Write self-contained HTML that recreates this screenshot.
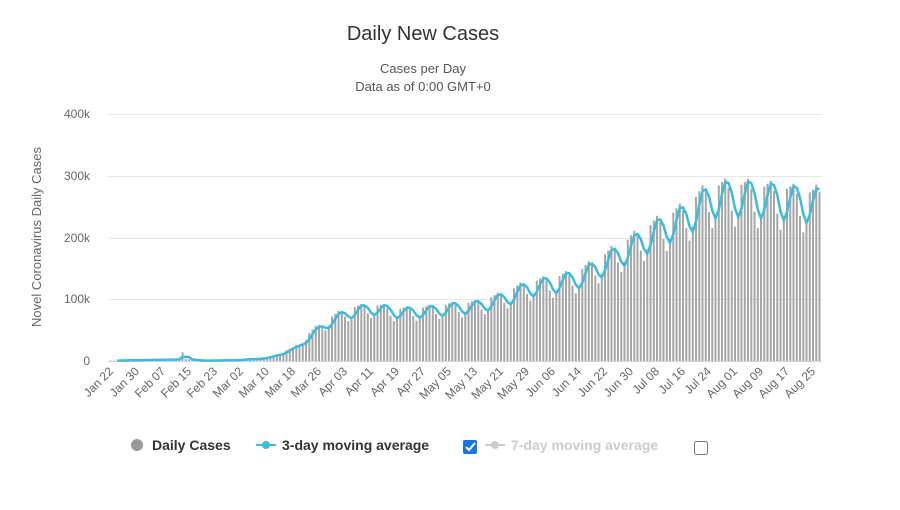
<!DOCTYPE html><html><head><meta charset="utf-8"><style>
body{margin:0;background:#fff;font-family:"Liberation Sans",sans-serif}
</style></head><body>
<svg id="s" width="900" height="505" xmlns="http://www.w3.org/2000/svg" font-family="Liberation Sans, sans-serif">
<rect width="900" height="505" fill="#fff"/>
<text x="423" y="40" font-size="20" text-anchor="middle" fill="#333">Daily New Cases</text>
<text x="423" y="73" font-size="13" text-anchor="middle" fill="#555">Cases per Day</text>
<text x="423" y="91" font-size="13" text-anchor="middle" fill="#555">Data as of 0:00 GMT+0</text>
<g stroke="#e6e6e6" stroke-width="1">
<line x1="108" x2="822" y1="114.5" y2="114.5"/><line x1="108" x2="822" y1="176.5" y2="176.5"/>
<line x1="108" x2="822" y1="238.5" y2="238.5"/><line x1="108" x2="822" y1="299.5" y2="299.5"/>
<line x1="108" x2="822" y1="361.5" y2="361.5" stroke="#ccd6eb"/></g>
<g font-size="12" fill="#666" text-anchor="end">
<text x="90" y="118">400k</text><text x="90" y="180">300k</text><text x="90" y="242">200k</text><text x="90" y="303">100k</text><text x="90" y="365">0</text></g>
<text transform="translate(41,237) rotate(-90)" font-size="13" fill="#666" text-anchor="middle">Novel Coronavirus Daily Cases</text>
<g id="bars" fill="#a6a6a6"></g>
<polyline id="ma" fill="none" stroke="#3cbbe0" stroke-width="2.5"/>
<g id="xl" font-size="12" fill="#666"></g>
<circle cx="137" cy="445" r="6" fill="#999"/>
<text x="152" y="450" font-size="14" font-weight="bold" fill="#333">Daily Cases</text>
<line x1="256" x2="276" y1="445" y2="445" stroke="#3cbbe0" stroke-width="2"/><circle cx="266" cy="445" r="4" fill="#3cbbe0"/>
<text x="282" y="450" font-size="14" font-weight="bold" fill="#333">3-day moving average</text>
<rect x="463" y="440" width="14" height="14" rx="2" fill="#1a73e8"/><path d="M466 447l3 3 6-7" stroke="#fff" stroke-width="2" fill="none"/>
<line x1="485" x2="505" y1="445" y2="445" stroke="#ccc" stroke-width="2"/><circle cx="495" cy="445" r="4" fill="#ccc"/>
<text x="511" y="450" font-size="14" font-weight="bold" fill="#ccc">7-day moving average</text>
<rect x="694.5" y="441.5" width="13" height="13" rx="2" fill="#fff" stroke="#777"/>
</svg>
<script>
var K=[[0,.6],[20,2.5],[21,3],[22,14],[23,3],[28,.5],[39,1.5],[48,5],[56,20],[64,55],[72,78],[80,85],[88,78],[96,80],[104,85],[112,88],[120,100],[128,118],[136,125],[144,135],[152,160],[160,185],[168,210],[176,230],[184,262],[192,265],[200,262],[208,258],[216,252],[218,258]];
function base(d){for(var i=0;i<K.length-1;i++){if(d>=K[i][0]&&d<=K[i+1][0]){var t=(d-K[i][0])/(K[i+1][0]-K[i][0]);return K[i][1]+t*(K[i+1][1]-K[i][1]);}}return 0;}
var v=[];for(var d=0;d<=218;d++){var b=base(d);var ph=((d+2)%7);var f=[1.08,1.1,1.12,1.06,0.92,0.82,0.9][ph];if(d<40)f=1;v.push(b*f);}
var X=function(d){return 111+d*3.25},Y=function(k){return 361-k*0.6175};
var s="",p=[];
for(var d=0;d<=218;d++){var y=Y(v[d]);s+='<rect x="'+(X(d)-1).toFixed(1)+'" y="'+y.toFixed(1)+'" width="2" height="'+(361-y).toFixed(1)+'"/>';
if(d>=2){var m=(v[d]+v[d-1]+v[d-2])/3;p.push(X(d).toFixed(1)+","+Y(m).toFixed(1));}}
document.getElementById("bars").innerHTML=s;document.getElementById("ma").setAttribute("points",p.join(" "));
var L=["Jan 22","Jan 30","Feb 07","Feb 15","Feb 23","Mar 02","Mar 10","Mar 18","Mar 26","Apr 03","Apr 11","Apr 19","Apr 27","May 05","May 13","May 21","May 29","Jun 06","Jun 14","Jun 22","Jun 30","Jul 08","Jul 16","Jul 24","Aug 01","Aug 09","Aug 17","Aug 25"],t="";
L.forEach(function(l,i){var x=X(i*8)+3;t+='<text transform="translate('+x+',372) rotate(-45)" text-anchor="end">'+l+'</text>';});
document.getElementById("xl").innerHTML=t;
</script>
</body></html>
